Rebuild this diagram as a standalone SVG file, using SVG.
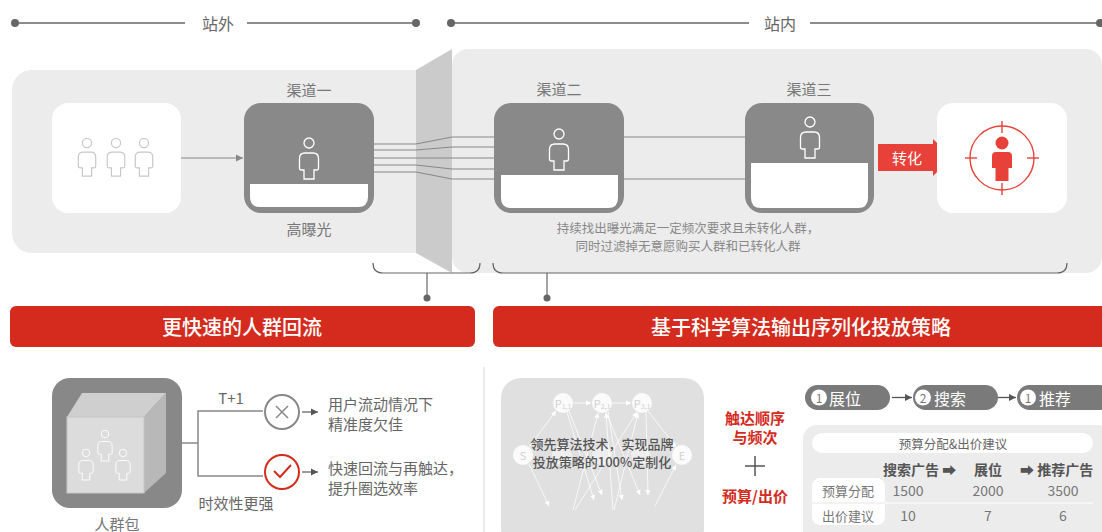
<svg xmlns="http://www.w3.org/2000/svg" xmlns:xlink="http://www.w3.org/1999/xlink" width="1102" height="532" viewBox="0 0 1102 532">
  <style>
    text { font-family: "Noto Sans CJK SC", "Liberation Sans", sans-serif; dominant-baseline: central; }
    .hdr { font-size: 16px; fill: #666; text-anchor: middle; }
    .lbl { font-size: 15px; fill: #777; text-anchor: middle; }
    .desc { font-size: 12.5px; fill: #888; text-anchor: middle; }
    .bar { font-size: 20px; fill: #fff; text-anchor: middle; font-weight: 500; }
    .note { font-size: 15px; fill: #666; }
    .redtxt { font-size: 15px; fill: #d42b1e; text-anchor: middle; font-weight: 700; }
    .pill { font-size: 16px; fill: #fff; }
    .num { font-size: 12px; fill: #777; text-anchor: middle; }
    .cell { font-size: 13px; fill: #777; text-anchor: middle; }
    .val { font-size: 14px; fill: #777; text-anchor: middle; }
    .colh { font-size: 14px; fill: #555; font-weight: 700; }
    .link { fill: none; stroke: #888; stroke-width: 1.2; }
    .rule { stroke: #666; stroke-width: 1.4; }
    .dot { fill: #666; }
    .panel { fill: #ececec; }
    .chan { fill: #898989; }
    .net { stroke: #fff; stroke-opacity: 0.85; stroke-width: 0.9; fill: none; }
    .nodec { fill: #fff; fill-opacity: 0.85; }
    .nodet { font-size: 11px; fill: #d0d0d0; text-anchor: middle; }
  </style>
  <defs>
    <g id="person">
      <circle cx="0" cy="0" r="5"/>
      <path d="M-4,10 H4 Q9.5,10 9.5,15.5 V25 Q9.5,27 7.5,27 H5 V36 H-5 V27 H-7.5 Q-9.5,27 -9.5,25 V15.5 Q-9.5,10 -4,10 Z"/>
    </g>
    <marker id="ah" markerWidth="8" markerHeight="8" refX="7" refY="4" orient="auto" markerUnits="userSpaceOnUse">
      <path d="M0,0.5 L7,4 L0,7.5 Z" fill="#888"/>
    </marker>
    <marker id="ahd" markerWidth="8" markerHeight="8" refX="7" refY="4" orient="auto" markerUnits="userSpaceOnUse">
      <path d="M0,0.5 L7,4 L0,7.5 Z" fill="#555"/>
    </marker>
    <marker id="ahw" markerWidth="6" markerHeight="6" refX="5" refY="3" orient="auto" markerUnits="userSpaceOnUse">
      <path d="M0,0.5 L5,3 L0,5.5 Z" fill="#fff"/>
    </marker>
  </defs>

  <!-- header rules: off-site / on-site -->
  <g id="scope-header">
    <line class="rule" x1="15" y1="23" x2="185" y2="23"/>
    <line class="rule" x1="247" y1="23" x2="416" y2="23"/>
    <circle class="dot" cx="15" cy="23" r="4"/>
    <circle class="dot" cx="416" cy="23" r="4"/>
    <text class="hdr" x="218" y="23">站外</text>
    <line class="rule" x1="451" y1="23" x2="749" y2="23"/>
    <line class="rule" x1="810" y1="23" x2="1100" y2="23"/>
    <circle class="dot" cx="451" cy="23" r="4"/>
    <circle class="dot" cx="1100" cy="23" r="4"/>
    <text class="hdr" x="780" y="23">站内</text>
  </g>

  <!-- background panels and the dividing wall -->
  <g id="panels">
    <rect class="panel" x="12" y="70" width="430" height="183" rx="20"/>
    <rect class="panel" x="452" y="49" width="650" height="224" rx="16"/>
    <polygon points="416,70 452,49 452,273 416,253" fill="#cbcbcb"/>
  </g>

  <!-- crowd -->
  <g id="crowd">
    <rect x="52" y="103" width="129" height="110" rx="16" fill="#fff"/>
    <g fill="none" stroke="#c8c8c8" stroke-width="1.3">
      <use xlink:href="#person" transform="translate(87,143) scale(0.92)"/>
      <use xlink:href="#person" transform="translate(116,143) scale(0.92)"/>
      <use xlink:href="#person" transform="translate(144,143) scale(0.92)"/>
    </g>
  </g>

  <!-- connectors -->
  <g id="connectors">
    <line class="link" x1="181" y1="158" x2="243" y2="158" marker-end="url(#ah)"/>
    <polyline class="link" points="374,144 416,144 452,137 494,137"/>
    <polyline class="link" points="374,150 416,150 452,147 494,147"/>
    <polyline class="link" points="374,158 416,158 452,158 494,158"/>
    <polyline class="link" points="374,165 416,165 452,169 494,169"/>
    <polyline class="link" points="374,172 416,172 452,179 494,179"/>
    <line class="link" x1="624" y1="137" x2="745" y2="137"/>
    <line class="link" x1="624" y1="179" x2="745" y2="179"/>
    <!-- braces and stems -->
    <path d="M373,263 Q373,273 383,273 H470 Q480,273 480,263" fill="none" stroke="#666" stroke-width="1.2"/>
    <path d="M493,263 Q493,273 503,273 H1057 Q1067,273 1067,263" fill="none" stroke="#666" stroke-width="1.2"/>
    <line x1="427" y1="273" x2="427" y2="297" stroke="#666" stroke-width="1.2"/>
    <circle class="dot" cx="427" cy="298" r="3.5"/>
    <line x1="547" y1="273" x2="547" y2="297" stroke="#666" stroke-width="1.2"/>
    <circle class="dot" cx="547" cy="298" r="3.5"/>
  </g>

  <!-- channel 1 -->
  <g id="channel-1">
    <text class="lbl" x="309" y="89">渠道一</text>
    <rect class="chan" x="244" y="103" width="130" height="110" rx="17"/>
    <path d="M250,184 H368 V197 Q368,207 358,207 H260 Q250,207 250,197 Z" fill="#fff"/>
    <use xlink:href="#person" fill="none" stroke="#fff" stroke-width="1.3" transform="translate(309,143)"/>
    <text class="lbl" x="309" y="228">高曝光</text>
  </g>

  <!-- channel 2 -->
  <g id="channel-2">
    <text class="lbl" x="559" y="88">渠道二</text>
    <rect class="chan" x="494" y="103" width="130" height="110" rx="17"/>
    <path d="M501,175 H618 V198 Q618,208 608,208 H511 Q501,208 501,198 Z" fill="#fff"/>
    <use xlink:href="#person" fill="none" stroke="#fff" stroke-width="1.3" transform="translate(559,134)"/>
  </g>

  <!-- channel 3 -->
  <g id="channel-3">
    <text class="lbl" x="809" y="88">渠道三</text>
    <rect class="chan" x="745" y="103" width="129" height="110" rx="17"/>
    <path d="M751,163 H868 V198 Q868,208 858,208 H761 Q751,208 751,198 Z" fill="#fff"/>
    <use xlink:href="#person" fill="none" stroke="#fff" stroke-width="1.3" transform="translate(810,122)"/>
  </g>

  <g id="channel-note">
    <text class="desc" x="688" y="227">持续找出曝光满足一定频次要求且未转化人群，</text>
    <text class="desc" x="688" y="245">同时过滤掉无意愿购买人群和已转化人群</text>
  </g>

  <!-- conversion arrow -->
  <g id="convert">
    <polygon points="878,144 933,144 933,139 952,157.5 933,176 933,171 878,171" fill="#e8413a"/>
    <text x="907" y="157.5" font-size="15" fill="#fff" text-anchor="middle">转化</text>
  </g>

  <!-- target -->
  <g id="target">
    <rect x="937" y="103" width="130" height="110" rx="16" fill="#fff"/>
    <g stroke="#e8413a" stroke-width="1.4" fill="none">
      <circle cx="1002" cy="158" r="32"/>
      <line x1="1002" y1="121" x2="1002" y2="133"/>
      <line x1="1002" y1="183" x2="1002" y2="195"/>
      <line x1="965" y1="158" x2="977" y2="158"/>
      <line x1="1027" y1="158" x2="1039" y2="158"/>
    </g>
    <circle cx="1002" cy="143" r="6.5" fill="#e8413a"/>
    <path d="M996,152 H1008 Q1012,152 1012,156 V168 H1008.5 V181 H995.5 V168 H992 V156 Q992,152 996,152 Z" fill="#e8413a"/>
  </g>

  <!-- section bars -->
  <g id="bar-left">
    <rect x="10" y="306" width="465" height="41" rx="6" fill="#d42b1e"/>
    <text class="bar" x="242" y="326">更快速的人群回流</text>
  </g>
  <g id="bar-right">
    <rect x="493" y="306" width="620" height="41" rx="6" fill="#d42b1e"/>
    <text class="bar" x="801" y="326">基于科学算法输出序列化投放策略</text>
  </g>

  <line x1="484" y1="367" x2="484" y2="532" stroke="#ddd" stroke-width="1.2"/>

  <!-- audience package -->
  <g id="package">
    <rect x="52" y="378" width="130" height="130" rx="18" fill="#888"/>
    <polygon points="67,417 82,393 166,393 144,417" fill="#cfcfcf"/>
    <polygon points="144,417 166,393 166,473 144,493" fill="#b8b8b8"/>
    <rect x="67" y="417" width="77" height="76" fill="#dcdcdc" stroke="#c6c6c6" stroke-width="1"/>
    <g fill="none" stroke="#fff" stroke-width="1.2">
      <use xlink:href="#person" transform="translate(105,434) scale(0.75)"/>
      <use xlink:href="#person" transform="translate(86,453) scale(0.75)"/>
      <use xlink:href="#person" transform="translate(123,453) scale(0.75)"/>
    </g>
    <text class="lbl" x="117" y="523" fill="#666">人群包</text>
  </g>

  <!-- timeliness branch -->
  <g id="branch">
    <polyline points="182,443 198,443" fill="none" stroke="#888" stroke-width="1.5"/>
    <polyline points="263,411 198,411 198,476 263,476" fill="none" stroke="#888" stroke-width="1.5"/>
    <text class="note" x="231" y="397" text-anchor="middle">T+1</text>
    <text class="note" x="236" y="502" text-anchor="middle">时效性更强</text>
  </g>
  <g id="result-slow">
    <circle cx="282" cy="412" r="17" fill="#fff" stroke="#888" stroke-width="2"/>
    <path d="M276,406 L288,418 M288,406 L276,418" stroke="#888" stroke-width="1.5"/>
    <line x1="302" y1="412" x2="318" y2="412" stroke="#666" stroke-width="1.3" marker-end="url(#ahd)"/>
    <text class="note" x="328" y="403">用户流动情况下</text>
    <text class="note" x="328" y="423">精准度欠佳</text>
  </g>
  <g id="result-fast">
    <circle cx="282" cy="472" r="17" fill="#fff" stroke="#d42b1e" stroke-width="2"/>
    <path d="M274,471 L280,477 L291,465" fill="none" stroke="#d42b1e" stroke-width="2"/>
    <line x1="302" y1="472" x2="318" y2="472" stroke="#666" stroke-width="1.3" marker-end="url(#ahd)"/>
    <text class="note" x="328" y="467">快速回流与再触达，</text>
    <text class="note" x="328" y="487">提升圈选效率</text>
  </g>

  <!-- sequencing algorithm network -->
  <g id="algorithm">
    <rect x="501" y="378" width="203" height="170" rx="20" fill="#e0e0e0"/>
    <g class="net" marker-end="url(#ahw)">
      <line x1="529" y1="447" x2="556" y2="411"/>
      <line x1="529" y1="464" x2="549" y2="506"/>
      <line x1="573" y1="403" x2="591" y2="403"/>
      <line x1="612" y1="403" x2="631" y2="403"/>
      <line x1="648" y1="411" x2="676" y2="447"/>
      <line x1="655" y1="506" x2="676" y2="465"/>
      <line x1="567" y1="412" x2="594" y2="500"/>
      <line x1="569" y1="411" x2="602" y2="495"/>
      <line x1="573" y1="510" x2="598" y2="413"/>
      <line x1="575" y1="510" x2="637" y2="412"/>
      <line x1="613" y1="510" x2="606" y2="413"/>
      <line x1="614" y1="510" x2="638" y2="413"/>
      <line x1="606" y1="412" x2="640" y2="495"/>
      <line x1="608" y1="411" x2="622" y2="500"/>
      <line x1="646" y1="412" x2="648" y2="495"/>
    </g>
    <circle class="nodec" cx="563" cy="403" r="10"/>
    <circle class="nodec" cx="602" cy="403" r="10"/>
    <circle class="nodec" cx="642" cy="403" r="10"/>
    <circle class="nodec" cx="523" cy="455" r="10"/>
    <circle class="nodec" cx="682" cy="455" r="10"/>
    <circle cx="562" cy="455" r="10" fill="#fff" fill-opacity="0.45"/>
    <circle cx="602" cy="455" r="10" fill="#fff" fill-opacity="0.45"/>
    <circle cx="641" cy="455" r="10" fill="#fff" fill-opacity="0.45"/>
    <text class="nodet" x="563" y="403">P<tspan font-size="7" dy="3">1,1</tspan></text>
    <text class="nodet" x="602" y="403">P<tspan font-size="7" dy="3">2,1</tspan></text>
    <text class="nodet" x="642" y="403">P<tspan font-size="7" dy="3">3,1</tspan></text>
    <text class="nodet" x="523" y="455">S</text>
    <text class="nodet" x="682" y="455">E</text>
    <text x="602" y="443" font-size="13" fill="#555" text-anchor="middle" font-weight="500">领先算法技术，实现品牌</text>
    <text x="602" y="461" font-size="13" fill="#555" text-anchor="middle" font-weight="500">投放策略的100%定制化</text>
  </g>

  <!-- reach order + budget -->
  <g id="formula">
    <text class="redtxt" x="755" y="417">触达顺序</text>
    <text class="redtxt" x="755" y="436">与频次</text>
    <path d="M745,466 H765 M755,456 V476" stroke="#555" stroke-width="1.5"/>
    <text class="redtxt" x="755" y="495">预算/出价</text>
  </g>

  <!-- sequence pills -->
  <g id="sequence">
    <rect x="805" y="385" width="85" height="25" rx="12.5" fill="#7a7a7a"/>
    <circle cx="819" cy="397.5" r="8" fill="#fff"/>
    <text class="num" x="819" y="397.5">1</text>
    <text class="pill" x="829" y="397.5">展位</text>
    <line x1="892" y1="397.5" x2="912" y2="397.5" stroke="#555" stroke-width="1.3" marker-end="url(#ahd)"/>
    <rect x="913" y="385" width="85" height="25" rx="12.5" fill="#7a7a7a"/>
    <circle cx="923" cy="397.5" r="8" fill="#fff"/>
    <text class="num" x="923" y="397.5">2</text>
    <text class="pill" x="934" y="397.5">搜索</text>
    <line x1="998" y1="397.5" x2="1016" y2="397.5" stroke="#555" stroke-width="1.3" marker-end="url(#ahd)"/>
    <rect x="1017" y="385" width="95" height="25" rx="12.5" fill="#7a7a7a"/>
    <circle cx="1028" cy="397.5" r="8" fill="#fff"/>
    <text class="num" x="1028" y="397.5">1</text>
    <text class="pill" x="1039" y="397.5">推荐</text>
  </g>

  <!-- budget table -->
  <g id="budget-table">
    <rect x="803" y="425" width="310" height="120" rx="14" fill="#ececec"/>
    <rect x="812" y="433" width="281" height="20" rx="10" fill="#fff"/>
    <text x="953" y="443" font-size="12.5" fill="#666" text-anchor="middle">预算分配&amp;出价建议</text>
    <text class="colh" x="883" y="469">搜索广告 ➡</text>
    <text class="colh" x="988" y="469" text-anchor="middle">展位</text>
    <text class="colh" x="1020" y="469">➡ 推荐广告</text>
    <rect x="812" y="478" width="73" height="47" rx="8" fill="#fff"/>
    <line x1="885" y1="503" x2="1093" y2="503" stroke="#fff" stroke-width="1.2"/>
    <line x1="812" y1="503" x2="885" y2="503" stroke="#e6e6e6" stroke-width="1"/>
    <text class="cell" x="848" y="490">预算分配</text>
    <text class="cell" x="848" y="515">出价建议</text>
    <text class="val" x="908" y="490">1500</text>
    <text class="val" x="988" y="490">2000</text>
    <text class="val" x="1063" y="490">3500</text>
    <text class="val" x="908" y="515">10</text>
    <text class="val" x="988" y="515">7</text>
    <text class="val" x="1063" y="515">6</text>
  </g>
</svg>
